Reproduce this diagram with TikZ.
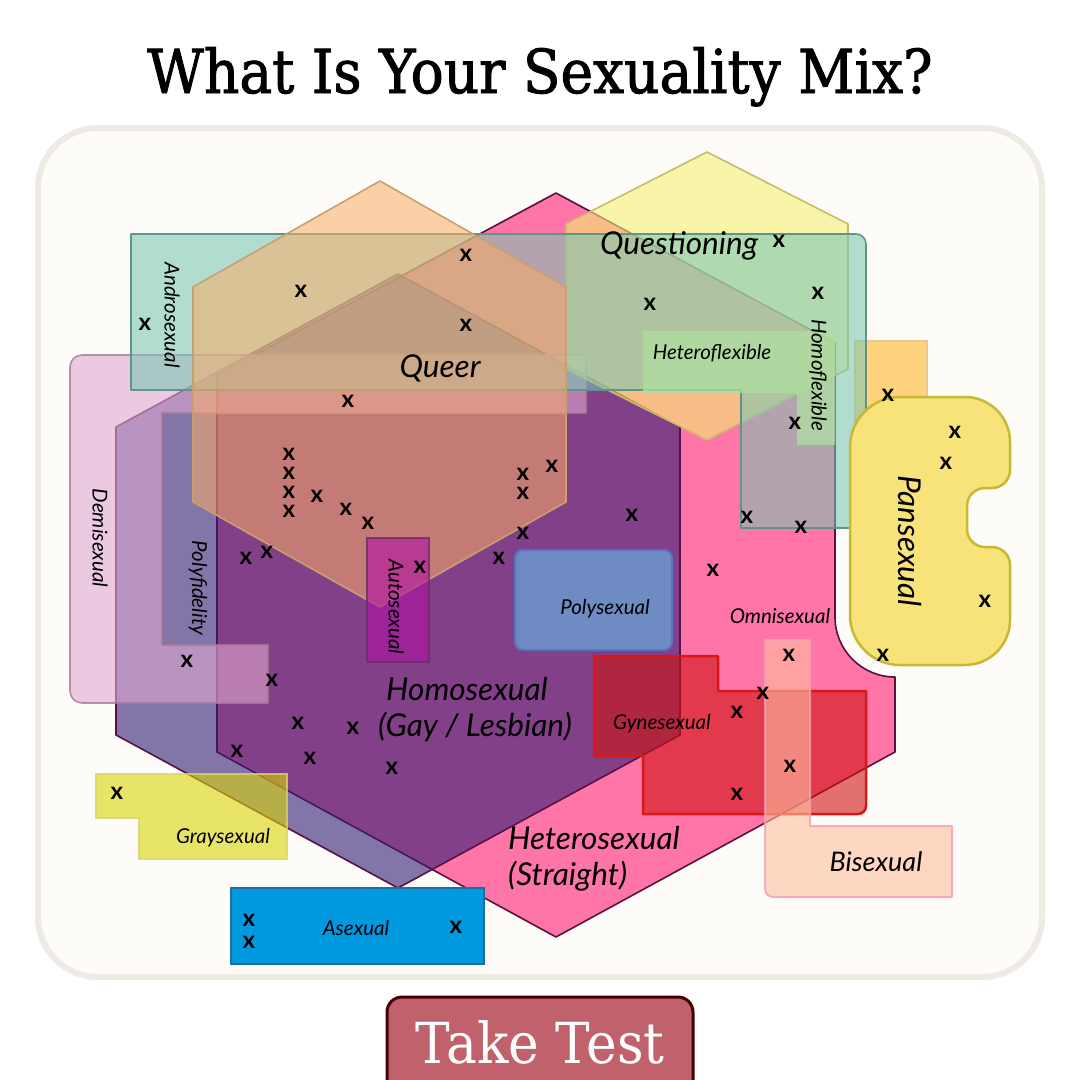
\documentclass[tikz,border=0pt]{standalone}
\usepackage{fontspec}
\setmainfont{Lato}
\newfontfamily\titlefont{DejaVu Serif}
\newfontfamily\titlefontb[FakeBold=1.6]{DejaVu Serif}
\usepackage{graphicx}
\definecolor{panelbg}{HTML}{FDFCF8}
\definecolor{panelbd}{HTML}{EEEBE4}
\definecolor{hetpink}{HTML}{FF75A8}
\definecolor{darkline}{HTML}{5A1040}
\definecolor{indigo}{HTML}{301E75}
\definecolor{demic}{HTML}{E0A8D0}
\definecolor{demid}{HTML}{A87898}
\definecolor{questc}{HTML}{F5EF73}
\definecolor{questd}{HTML}{C8BC6C}
\definecolor{tealc}{HTML}{79C7B5}
\definecolor{teald}{HTML}{5E9686}
\definecolor{queerc}{HTML}{FBAC66}
\definecolor{queerd}{HTML}{C8A070}
\definecolor{flexc}{HTML}{AEE0A0}
\definecolor{gynec}{HTML}{D01310}
\definecolor{gyned}{HTML}{D81818}
\definecolor{bic}{HTML}{FFBFA0}
\definecolor{bid}{HTML}{F0A0B8}
\definecolor{grayc}{HTML}{DAD408}
\definecolor{grayd}{HTML}{D8D468}
\definecolor{asexc}{HTML}{0099E0}
\definecolor{asexd}{HTML}{1D6FA0}
\definecolor{panc}{HTML}{F8E27A}
\definecolor{pand}{HTML}{C8B832}
\definecolor{autoc}{HTML}{B110A5}
\definecolor{autod}{HTML}{6A2E6A}
\definecolor{polyc}{HTML}{6E8BC4}
\definecolor{polyd}{HTML}{5A72C0}
\definecolor{orangec}{HTML}{FFD37E}
\definecolor{oranged}{HTML}{E8C890}
\definecolor{btnc}{HTML}{C0616B}
\definecolor{btnd}{HTML}{480008}
\begin{document}
\begin{tikzpicture}[x=1pt,y=-1pt,
  lab/.style={font=\itshape\fontsize{20.5}{24}\selectfont, inner sep=0pt},
  biglab/.style={font=\itshape\fontsize{31.5}{36}\selectfont, inner sep=0pt},
  xmk/.style={font=\bfseries\fontsize{24}{24}\selectfont, inner sep=0pt},
  shapeline/.style={line width=1.6pt, line join=round}]
\useasboundingbox (0,0) rectangle (1080,1080);
\fill[white] (0,0) rectangle (1080,1080);
% title
\node[anchor=base, inner sep=0pt] (title) at (540,93) {\resizebox{785pt}{46pt}{\titlefontb What Is Your Sexuality Mix?}};
% panel
\draw[fill=panelbg, draw=panelbd, line width=6pt, rounded corners=60pt] (38,128) rectangle (1042,977);
% heterosexual pink hexagon with notch
\draw[shapeline, fill=hetpink, draw=darkline] (556,193) -- (835,343) -- (835,617) arc[start angle=180,end angle=90,radius=60] -- (895,752) -- (556,937) -- (217,752) -- (217,375) -- cycle;
% indigo hexagon
\draw[shapeline, fill=indigo, fill opacity=0.6, draw=darkline] (398,274) -- (680,427) -- (680,735) -- (398,888) -- (116,735) -- (116,427) -- cycle;
% polysexual
\draw[line width=2pt, fill=polyc, draw=polyd, rounded corners=8pt] (515,550) rectangle (672,650);
% demisexual C shape
\draw[shapeline, fill=demic, fill opacity=0.6, draw=demid, draw opacity=0.8] (82,355) -- (586,355) -- (586,413) -- (162,413) -- (162,645) -- (268,645) -- (268,703) -- (82,703) arc[start angle=90,end angle=180,radius=12] -- (70,367) arc[start angle=180,end angle=270,radius=12] -- cycle;
% questioning hexagon
\draw[shapeline, fill=questc, fill opacity=0.6, draw=questd] (707,152) -- (848,224) -- (848,369) -- (707,440) -- (566,369) -- (566,224) -- cycle;
% orange rect right
\draw[line width=1.5pt, fill=orangec, draw=oranged] (855,341) rectangle (927,440);
% teal androsexual/questioning box
\draw[shapeline, fill=tealc, fill opacity=0.57, draw=teald] (131,234) -- (856,234) arc[start angle=270,end angle=360,radius=10] -- (866,528) -- (741,528) -- (741,390) -- (131,390) -- cycle;
% queer hexagon
\draw[shapeline, fill=queerc, fill opacity=0.55, draw=queerd] (380,181) -- (566,287) -- (566,502) -- (380,607) -- (193,502) -- (193,287) -- cycle;
% autosexual
\draw[line width=2pt, fill=autoc, fill opacity=0.6, draw=autod, draw opacity=0.8] (367,538) rectangle (429,662);
% hetero/homoflexible
\fill[flexc, opacity=0.75] (643,331) -- (835,331) -- (835,445) -- (797,445) -- (797,393) -- (643,393) -- cycle;
% gynesexual
\draw[line width=2.5pt, line join=round, fill=gynec, fill opacity=0.6, draw=gyned] (594,656) -- (718,656) -- (718,691) -- (866,691) -- (866,806) arc[start angle=0,end angle=90,radius=8] -- (643,814) -- (643,756) -- (594,756) -- cycle;
% bisexual
\draw[line width=2pt, line join=round, fill=bic, fill opacity=0.6, draw=bid, draw opacity=0.8] (765,640) -- (810,640) -- (810,826) -- (952,826) -- (952,897) -- (773,897) arc[start angle=90,end angle=180,radius=8] -- cycle;
% graysexual
\draw[line width=2pt, fill=grayc, fill opacity=0.6, draw=grayd, draw opacity=0.8] (96,774) -- (287,774) -- (287,859) -- (139,859) -- (139,818) -- (96,818) -- cycle;
% asexual
\draw[line width=2pt, fill=asexc, draw=asexd] (231,888) rectangle (484,964);
% pansexual
\draw[line width=2.5pt, fill=panc, draw=pand] (900,397) -- (965,397) arc[start angle=270,end angle=360,radius=45] -- (1010,470) arc[start angle=0,end angle=90,radius=18] -- (985,488) arc[start angle=270,end angle=180,radius=18] -- (967,529) arc[start angle=180,end angle=90,radius=18] -- (992,547) arc[start angle=270,end angle=360,radius=18] -- (1010,620) arc[start angle=0,end angle=90,radius=45] -- (900,665) arc[start angle=90,end angle=180,radius=50] -- (850,447) arc[start angle=180,end angle=270,radius=50] -- cycle;
% labels
\node[biglab] (lquest) at (679,246) {Questioning};
\node[biglab] (lqueer) at (440,368) {Queer};
\node[biglab, anchor=base] (lhomo) at (467,700) {Homosexual};
\node[biglab, anchor=base] (lgay) at (475,736) {(Gay / Lesbian)};
\node[biglab, align=left, anchor=west] (lhet) at (508,859) {Heterosexual\\(Straight)};
\node[biglab, rotate=-90] (lpan) at (910,541) {Pansexual};
\node[lab, font=\itshape\fontsize{27}{30}\selectfont] (lbi) at (876,862) {Bisexual};
\node[lab] (lhetflex) at (712,353) {Heteroflexible};
\node[lab, rotate=-90] (lhomoflex) at (818,375) {Homoflexible};
\node[lab, rotate=-90] (landro) at (172,315) {Androsexual};
\node[lab, rotate=-90] (ldemi) at (100,538) {Demisexual};
\node[lab, rotate=-90] (lpolyfid) at (198,588) {Polyfidelity};
\node[lab, rotate=-90] (lauto) at (396,607) {Autosexual};
\node[lab] (lpolys) at (605,609) {Polysexual};
\node[lab] (lomni) at (780,616) {Omnisexual};
\node[lab] (lgyne) at (662,724) {Gynesexual};
\node[lab] (lgray) at (223,838) {Graysexual};
\node[lab] (lasex) at (356,928) {Asexual};
% x marks
\foreach \a/\b [count=\i] in {466/255, 301/291, 145/324, 466/325, 779/241, 650/304, 818/293, 348/401, 888/395, 795/423, 955/432, 946/463, 289/454, 289/473, 289/492, 289/511, 317/496, 346/509, 368/523, 246/558, 267/552, 187/661, 272/680, 420/567, 523/474, 523/493, 552/466, 523/533, 499/558, 632/515, 713/570, 747/517, 801/527, 985/601, 883/655, 789/655, 763/693, 737/712, 790/766, 737/794, 298/723, 353/728, 237/751, 310/758, 392/768, 117/793, 249/920, 249/942, 456/927}
  \node[xmk] (x\i) at (\a,\b) {x};
% button
\draw[fill=btnc, draw=btnd, line width=3pt, rounded corners=15pt] (387,997) rectangle (693,1095);
\node[anchor=base, inner sep=0pt, text=white] (btn) at (540,1063) {\resizebox{249pt}{43pt}{\titlefont Take Test}};
\end{tikzpicture}
\end{document}
